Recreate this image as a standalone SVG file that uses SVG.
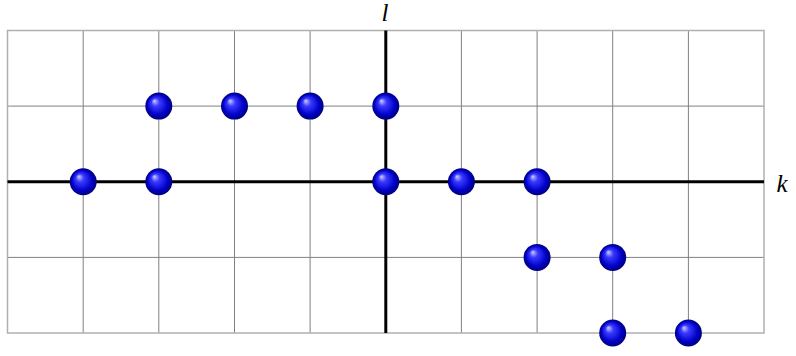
<svg xmlns="http://www.w3.org/2000/svg" width="796" height="356" viewBox="0 0 796 356">
<style>
.grid{stroke:#808080;stroke-width:1;fill:none}
.border{stroke:#b0b0b0;stroke-width:1.5;fill:none}
.axis{stroke:#000;stroke-width:3;fill:none}
.lbl{font-family:"Liberation Serif",serif;font-style:italic;font-size:25px;fill:#000}
.ball{fill:url(#bg)}
</style>
<defs>
<radialGradient id="bg" cx="0.5" cy="0.5" r="0.5" fx="0.33" fy="0.3">
<stop offset="0" stop-color="#d0d0ff"/>
<stop offset="0.3" stop-color="#3a3aff"/>
<stop offset="0.75" stop-color="#0000c8"/>
<stop offset="1" stop-color="#00007a"/>
</radialGradient>
</defs>
<g id="grid">
<path class="grid" d="M83.2 30.5V333M158.8 30.5V333M234.5 30.5V333M310.1 30.5V333M461.4 30.5V333M537.1 30.5V333M612.7 30.5V333M688.4 30.5V333M7.5 106.1H764M7.5 257.4H764"/>
<rect class="border" x="7.5" y="30.5" width="756.5" height="302.5"/>
</g>
<g id="connectors">
<line class="axis" x1="7.5" y1="181.8" x2="764" y2="181.8"/>
<line class="axis" x1="385.8" y1="30.5" x2="385.8" y2="333"/>
</g>
<g id="labels">
<text class="lbl" x="385" y="21" text-anchor="middle">l</text>
<text class="lbl" x="782" y="192" text-anchor="middle">k</text>
</g>
<g id="balls">
<circle class="ball" cx="158.8" cy="106.1" r="13.5"/>
<circle class="ball" cx="234.5" cy="106.1" r="13.5"/>
<circle class="ball" cx="310.1" cy="106.1" r="13.5"/>
<circle class="ball" cx="385.8" cy="106.1" r="13.5"/>
<circle class="ball" cx="83.2" cy="181.8" r="13.5"/>
<circle class="ball" cx="158.8" cy="181.8" r="13.5"/>
<circle class="ball" cx="385.8" cy="181.8" r="13.5"/>
<circle class="ball" cx="461.4" cy="181.8" r="13.5"/>
<circle class="ball" cx="537.1" cy="181.8" r="13.5"/>
<circle class="ball" cx="537.1" cy="257.4" r="13.5"/>
<circle class="ball" cx="612.7" cy="257.4" r="13.5"/>
<circle class="ball" cx="612.7" cy="333" r="13.5"/>
<circle class="ball" cx="688.4" cy="333" r="13.5"/>
</g>
</svg>
